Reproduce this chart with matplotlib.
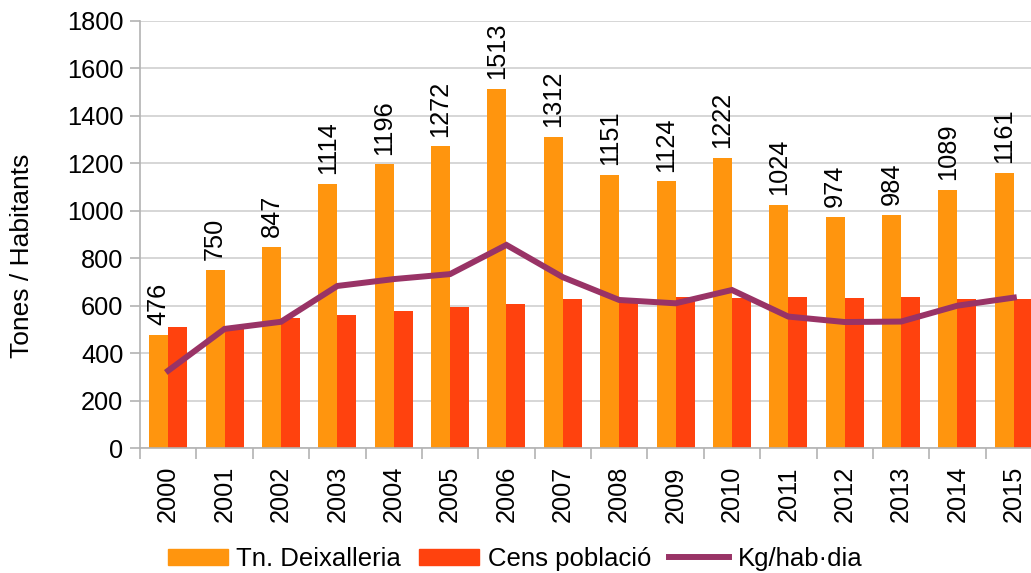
import matplotlib
matplotlib.use("Agg")
import matplotlib.pyplot as plt
import numpy as np
from matplotlib.lines import Line2D
from matplotlib.patches import Patch

years = ["2000", "2001", "2002", "2003", "2004", "2005", "2006", "2007",
         "2008", "2009", "2010", "2011", "2012", "2013", "2014", "2015"]
tn_deixalleria = [476, 750, 847, 1114, 1196, 1272, 1513, 1312,
                  1151, 1124, 1222, 1024, 974, 984, 1089, 1161]
cens_poblacio = [510, 503, 548, 561, 578, 594, 607, 628,
                 618, 636, 632, 636, 632, 636, 628, 628]
kg_hab_dia = [326, 502, 532, 683, 712, 733, 856, 720,
              624, 610, 666, 554, 531, 533, 600, 634]

plt.rcParams['font.family'] = ['Liberation Sans', 'DejaVu Sans']
FS = 18.3
FS_LEG = 18.5

c_orange = '#ff950e'
c_red = '#ff420e'
c_line = '#993366'
c_grid = '#d0d0d0'
c_axis = '#b3b3b3'

fig = plt.figure(figsize=(10.31, 5.73), dpi=100)
ax = fig.add_axes([140/1031, 125/573, (1042-140)/1031, (448-21)/573])

x = np.arange(len(years))
w = 0.337
ax.bar(x - w/2, tn_deixalleria, w, color=c_orange, zorder=2)
ax.bar(x + w/2, cens_poblacio, w, color=c_red, zorder=2)
ax.plot(x, kg_hab_dia, color=c_line, lw=4.3, zorder=3, solid_joinstyle='miter')

for xi, v in zip(x, tn_deixalleria):
    ax.annotate(str(v), (xi - w/2, v), xytext=(0, 7), textcoords='offset points',
                rotation=90, ha='center', va='bottom', fontsize=FS, color='black')

ax.set_xlim(-0.5, len(years) - 0.5)
ax.set_ylim(0, 1800)
ax.set_yticks(range(0, 1801, 200))
ax.yaxis.grid(True, color=c_grid, lw=1.2, zorder=0)
ax.set_axisbelow(True)

ax.set_xticks(x)
ax.set_xticklabels(years, rotation=90, fontsize=FS)
ax.set_xticks(np.arange(-0.5, len(years), 1), minor=True)
ax.tick_params(axis='x', which='major', length=0, pad=13)
ax.tick_params(axis='x', which='minor', length=8, color=c_axis, width=1.2)
ax.tick_params(axis='y', length=7, color=c_axis, width=1.2, labelsize=FS, pad=5)

for s in ['top', 'right']:
    ax.spines[s].set_visible(False)
for s in ['left', 'bottom']:
    ax.spines[s].set_color(c_axis)
    ax.spines[s].set_linewidth(1.2)

fig.text(22/1031, 1 - 256/573, 'Tones / Habitants', rotation=90, fontsize=19,
         ha='center', va='center')

handles = [Patch(color=c_orange), Patch(color=c_red), Line2D([], [], color=c_line, lw=4.3)]
labels = ['Tn. Deixalleria', 'Cens població', 'Kg/hab·dia']
fig.legend(handles, labels, loc='center', bbox_to_anchor=(515/1031, 1 - 559/573),
           ncol=3, frameon=False, fontsize=FS_LEG, handlelength=2.35, handleheight=0.63,
           columnspacing=0.7, handletextpad=0.32, borderaxespad=0, borderpad=0)

fig.savefig('out.png', dpi=100)
